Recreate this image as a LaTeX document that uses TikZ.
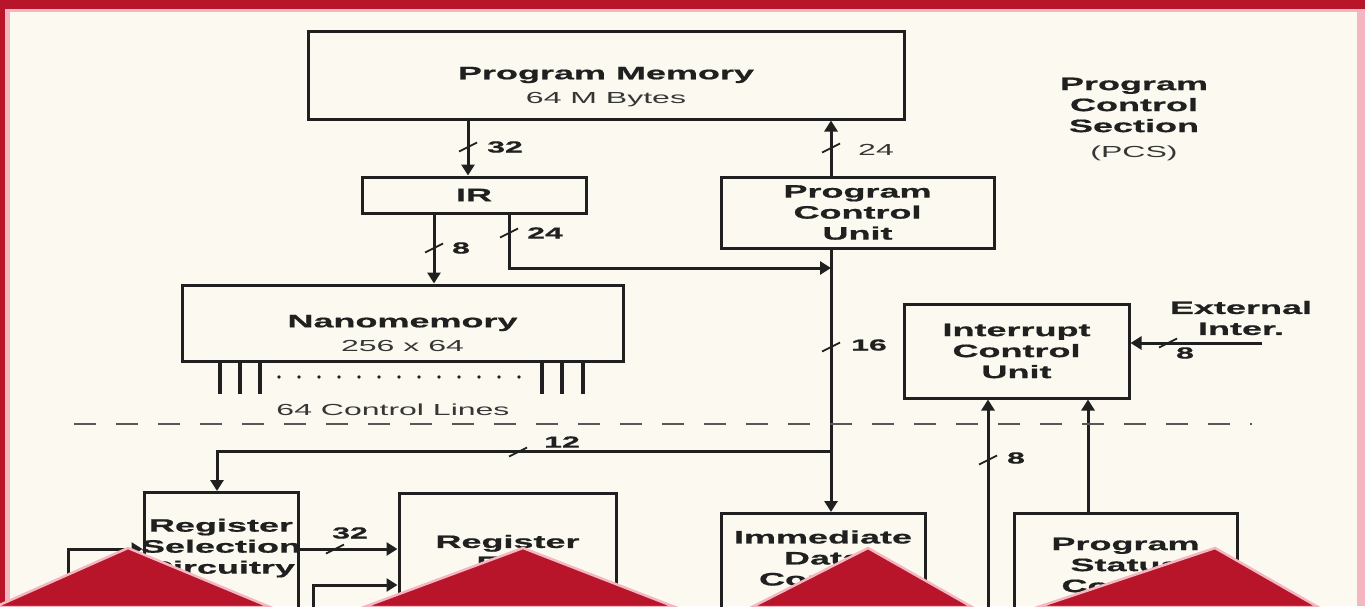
\documentclass[tikz,border=0pt]{standalone}
\usepackage{fontspec}
\newfontfamily\pcsfont[FakeStretch=2, BoldFeatures={FakeBold=0.8}]{Liberation Sans}
\usetikzlibrary{arrows.meta}
\definecolor{frame}{RGB}{184,20,42}
\definecolor{glow}{RGB}{244,182,192}
\definecolor{paper}{RGB}{252,250,240}
\definecolor{ink}{RGB}{32,32,32}

\begin{document}
\begin{tikzpicture}[x=1pt, y=-1pt,
  box/.style={draw=ink, line width=3pt, rectangle, inner sep=0pt, align=center, text=ink,
    font=\pcsfont\bfseries\fontsize{18}{21}\selectfont},
  txt/.style={inner sep=0pt, align=center, text=ink, font=\pcsfont\bfseries\fontsize{18}{21}\selectfont},
  small/.style={inner sep=0pt, text=ink!90, font=\pcsfont\fontsize{16}{18}\selectfont},
  num/.style={inner sep=0pt, text=ink, font=\pcsfont\bfseries\fontsize{16}{18}\selectfont},
  wire/.style={draw=ink, line width=3pt},
  bus/.style={wire, -{Triangle[length=11pt,width=13pt]}},
  slash/.style={draw=ink, line width=1.8pt},
  ctl/.style={draw=ink, line width=3.6pt}]
\useasboundingbox (0,0) rectangle (1365,606);
\clip (0,0) rectangle (1365,606);
% frame and paper
\fill[frame] (0,0) rectangle (1365,606);
\fill[glow] (5,9) rectangle (1365,606);
\fill[paper] (10,12) rectangle (1357,606);

% program control section
\node[box, minimum width=596, minimum height=88] (pm) at (606,75) {Program Memory};
\node[small] (pmsize) at (606,100) {64 M Bytes};
\node[box, minimum width=224, minimum height=36] (ir) at (474,195) {IR};
\node[box, minimum width=273, minimum height=71] (pcu) at (857.5,212.5) {Program\\Control\\Unit};
\node[box, minimum width=441, minimum height=76] (nano) at (402.5,323) {Nanomemory};
\node[small] (nanosize) at (402.5,346) {256 x 64};
\node[box, minimum width=225, minimum height=94] (icu) at (1016.5,351) {Interrupt\\Control\\Unit};
\node[txt] (pcs) at (1134,105) {Program\\Control\\Section};
\node[small] (pcsabbr) at (1134,153) {(PCS)};
\node[txt] (extint) at (1241,318) {External\\Inter.};
\node[small] (ctllines) at (393,410) {64 Control Lines};

% lower blocks
\node[box, anchor=north, minimum width=154, minimum height=200] (rsc) at (221,491) {};
\node[txt] (rsctext) at (221,548) {Register\\Selection\\Circuitry};
\node[box, anchor=north, minimum width=217, minimum height=200] (reg) at (507.5,492) {};
\node[txt] (regtext) at (507.5,552) {Register\\File};
\node[box, anchor=north, minimum width=204, minimum height=200] (idc) at (823,512) {};
\node[txt] (idctext) at (823,558) {Immediate\\Data\\Control};
\node[box, anchor=north, minimum width=223, minimum height=200] (psc) at (1125.5,512) {};
\node[txt] (psctext) at (1125.5,565) {Program\\Status\\Control};

\coordinate (j24) at (831,268);
\coordinate (j12) at (831,451);
\coordinate (extin) at (1262,343);
\coordinate (intin) at (988,620);
\coordinate (regin) at (313,620);
\coordinate (rscin) at (68,620);

\draw[bus] ([xshift=-6]ir.north |- pm.south) -- ([xshift=-6]ir.north);
\draw[bus] ([xshift=-40]ir.south) -- ([xshift=-40]ir.south |- nano.north);
\draw[bus] ([xshift=35]ir.south) |- (j24);
\draw[bus] (pcu.north -| j24) -- (pm.south -| j24);
\draw[bus] (pcu.south -| j24) -- (idc.north -| j24);
\draw[bus] (j12) -| ([xshift=-4]rsc.north);
\draw[bus] (extin) -- (icu.east |- extin);
\draw[bus] (intin) -- (icu.south -| intin);
\draw[bus] (psc.north -| 1088,0) -- (icu.south -| 1088,0);
\draw[bus] (rsc.east |- 0,549) -- (reg.west |- 0,549);
\draw[bus] (regin) |- (reg.west |- 0,585);
\draw[bus] (rscin) |- (rsc.west |- 0,549);

% bus widths
\foreach \x/\y in {468/147, 434/248, 509/233, 831/148, 831/347, 518/452, 1168/343, 988/460, 335/549}
  \draw[slash] (\x,\y) +(-9,4.5) -- +(9,-4.5);
\node[num] (w32) at (505,147) {32};
\node[num] (w8) at (461,248) {8};
\node[num] (w24) at (545,233) {24};
\node[small] (w24b) at (876,150) {24};
\node[num] (w16) at (869,345) {16};
\node[num] (w12) at (562,442) {12};
\node[num] (w8b) at (1185,353) {8};
\node[num] (w8c) at (1016,458) {8};
\node[num] (w32b) at (350,533) {32};

% control lines
\foreach \x in {220,240,260,542,562,583}
  \draw[ctl] (nano.south -| \x,0) -- ++(0,31);
\foreach \i in {0,...,12}
  \fill[ink] (279+20*\i,377) circle (1.8);
\draw[draw=ink!75, line width=2pt, dash pattern=on 22pt off 20pt] (74,424) -- (1252,424);

% slide decoration
\foreach \a/\b/\c in {-5/128/270, 364/523/675, 752/868/972, 1038/1215/1318}
  \draw[draw=glow, line width=2.5pt, fill=frame] (\a,607) -- (\b,548) -- (\c,607) -- cycle;
\end{tikzpicture}
\end{document}
